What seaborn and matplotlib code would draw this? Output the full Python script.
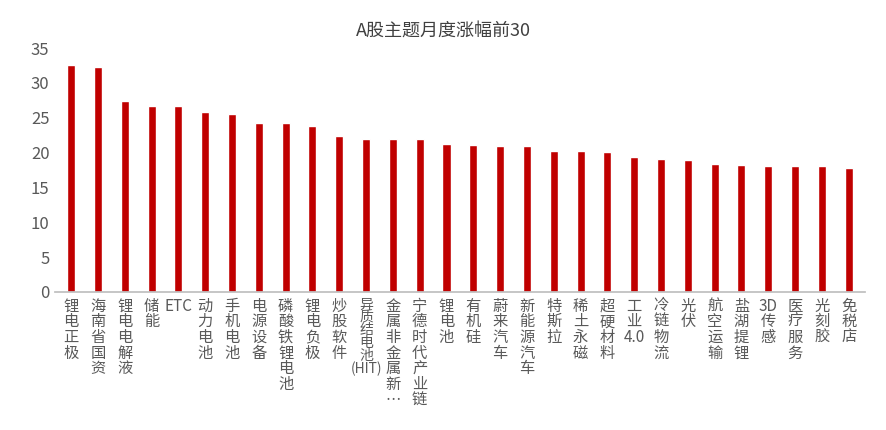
import matplotlib
matplotlib.use("Agg")
import matplotlib.pyplot as plt
import seaborn as sns
import pandas as pd
import re

categories = ["锂电正极","海南省国资","锂电电解液","储能","ETC","动力电池","手机电池","电源设备","磷酸铁锂电池","锂电负极",
              "炒股软件","异质结电池(HIT)","金属非金属新…","宁德时代产业链","锂电池","有机硅","蔚来汽车","新能源汽车","特斯拉","稀土永磁",
              "超硬材料","工业4.0","冷链物流","光伏","航空运输","盐湖提锂","3D传感","医疗服务","光刻胶","免税店"]
values = [32.6,32.3,27.4,26.7,26.7,25.8,25.6,24.3,24.2,23.8,22.4,22.0,21.9,21.9,21.2,21.1,21.0,21.0,20.3,20.3,
          20.1,19.4,19.1,18.9,18.4,18.2,18.1,18.1,18.1,17.8]
yticks = [0,5,10,15,20,25,30,35]

def vert(s):
    toks = re.findall(r"[A-Za-z0-9.()]+|.", s)
    return "\n".join(toks)

sns.set_theme(style="white")
plt.rcParams['font.family'] = ['Noto Sans CJK SC', 'DejaVu Sans']

df = pd.DataFrame({"cat": categories, "val": values})
fig = plt.figure(figsize=(8.87, 4.3), dpi=100)
ax = fig.add_axes([0.062, 0.321, 0.913, 0.567])
sns.barplot(data=df, x="cat", y="val", color="#C00000", width=0.3, saturation=1, ax=ax)
ax.set_ylim(0, 35)
ax.set_yticks(yticks)
ax.set_yticklabels([str(t) for t in yticks], fontsize=12, color="#595959")
ax.set_xticks(range(len(categories)))
labels = ax.set_xticklabels([vert(c) for c in categories], fontsize=11, color="#595959",
                            va="top", linespacing=0.9)
for lab, c in zip(labels, categories):
    if "HIT" in c:
        lab.set_fontsize(10)
ax.set_xlabel(""); ax.set_ylabel("")
for s in ["top", "right", "left"]:
    ax.spines[s].set_visible(False)
ax.spines["bottom"].set_color("#BFBFBF")
ax.tick_params(axis="both", length=0, pad=4)
ax.set_xlim(-0.6, len(categories) - 0.4)
fig.suptitle("A股主题月度涨幅前30", y=0.95, fontsize=13, color="#404040")
fig.savefig("out.png", dpi=100)
